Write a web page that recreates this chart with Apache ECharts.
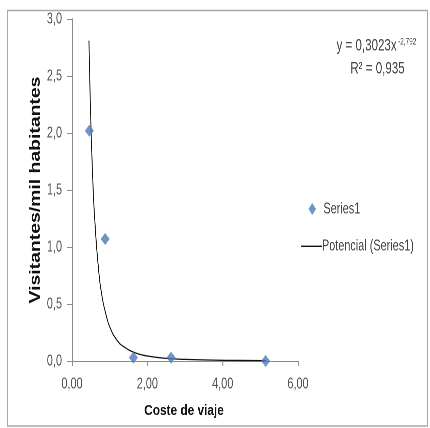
<!DOCTYPE html>
<html><head><meta charset="utf-8">
<script src="https://cdn.jsdelivr.net/npm/echarts@6/dist/echarts.min.js"></script>
<style>
html,body{margin:0;padding:0;background:#fff;overflow:hidden;width:430px;height:428px}
#c{width:632px;height:428px;transform:scaleX(0.68038);transform-origin:0 0}
</style>
</head><body><div id="c"></div>
<script>
// Observed data (Coste de viaje, Visitantes/mil habitantes)
const costeViaje = [0.46, 0.88, 1.63, 2.63, 5.14];
const visitantes = [2.02, 1.07, 0.03, 0.03, 0.00];
// Power trend line points
const trendX = [0.45, 0.50, 0.55, 0.60, 0.70, 0.80, 0.90, 1.00, 1.20, 1.40, 1.70, 2.00, 2.50, 3.00, 4.00, 5.14];
const trendY = [2.81, 2.09, 1.60, 1.26, 0.82, 0.56, 0.41, 0.30, 0.18, 0.12, 0.069, 0.044, 0.023, 0.014, 0.006, 0.003];
const xTicks = [0, 2, 4, 6];
const yTicks = [0, 0.5, 1, 1.5, 2, 2.5, 3];
const xTitle = 'Coste de viaje';
const yTitle = 'Visitantes/mil habitantes';
const equationText = 'y = 0,3023x';
const exponentText = '-2,792';
const r2Text = 'R² = 0,935';
const seriesName = 'Series1';
const trendName = 'Potencial (Series1)';

// the page is drawn 1.47x wide and squeezed back to 430px (narrow Excel-like text)
const K = 632 / 430;
const X = v => v * K;
const sans = '"Liberation Sans", Arial, sans-serif';
const blue = '#4a7bb7';

const chart = echarts.init(document.getElementById('c'), null, {devicePixelRatio: 2});
chart.setOption({
  backgroundColor: '#fff',
  animation: false,
  grid: {left: X(72), right: 632 - X(298), top: 19, bottom: 67},
  xAxis: {
    type: 'value', min: 0, max: 6, interval: 2,
    axisLine: {onZero: false, lineStyle: {color: '#8c8c8c', width: 1}},
    axisTick: {show: true, length: 5, lineStyle: {color: '#8c8c8c', width: 1.4}},
    axisLabel: {fontFamily: sans, fontSize: 16, color: '#555', margin: 15,
      formatter: v => v.toFixed(2).replace('.', ',')},
    splitLine: {show: false}
  },
  yAxis: {
    type: 'value', min: 0, max: 3, interval: 0.5,
    axisLine: {show: true, lineStyle: {color: '#8c8c8c', width: 1.4}},
    axisTick: {show: true, length: X(5), lineStyle: {color: '#8c8c8c', width: 1}},
    axisLabel: {fontFamily: sans, fontSize: 16, color: '#555', margin: X(10),
      padding: [7, 0, 0, 0], formatter: v => v.toFixed(1).replace('.', ',')},
    splitLine: {show: false}
  },
  legend: [
    {
      left: X(308.5), top: 201, padding: 0, itemWidth: X(7.5), itemHeight: 12,
      textStyle: {fontFamily: sans, fontSize: 16, color: '#444', padding: [0, 0, 0, X(4)]},
      data: [{name: seriesName, icon: 'diamond', itemStyle: {color: blue}}]
    },
    {
      left: X(301), top: 238.3, padding: 0, itemWidth: X(21), itemHeight: 1.4,
      textStyle: {fontFamily: sans, fontSize: 16, color: '#444', padding: [0, 0, 0, -X(3.5)]},
      data: [{name: trendName, icon: 'rect', itemStyle: {color: '#111'}}]
    }
  ],
  graphic: [
    {type: 'rect', silent: true, z: -1, shape: {x: X(7.5), y: 10.5, width: X(420), height: 415.5},
      style: {fill: 'none', stroke: '#a8a8a8', lineWidth: 1.4}},
    {type: 'text', x: X(336.5), y: 46, style: {text: equationText, fontFamily: sans, fontSize: 17, fill: '#444', verticalAlign: 'middle'}},
    {type: 'text', x: X(398), y: 42, style: {text: exponentText, fontFamily: sans, fontSize: 9.5, fill: '#444', verticalAlign: 'middle'}},
    {type: 'text', x: X(377.5), y: 69, style: {text: r2Text, fontFamily: sans, fontSize: 17, fill: '#444', align: 'center', verticalAlign: 'middle'}},
    {type: 'text', x: X(184), y: 411, scaleX: 1.2, style: {text: xTitle, fontFamily: sans, fontWeight: 'bold', fontSize: 14.5, fill: '#111', align: 'center', verticalAlign: 'middle'}},
    {type: 'text', x: X(35.5), y: 190, rotation: Math.PI / 2, scaleX: 1.14, scaleY: 1.3,
      style: {text: yTitle, fontFamily: sans, fontWeight: 'bold', fontSize: 17, fill: '#111', align: 'center', verticalAlign: 'middle'}}
  ],
  series: [
    {
      name: trendName, type: 'line', smooth: true, showSymbol: false,
      data: trendX.map((x, i) => [x, trendY[i]]),
      lineStyle: {color: '#111', width: 1.3}, z: 2
    },
    {
      name: seriesName, type: 'scatter', symbol: 'diamond', symbolSize: [X(9), 12],
      data: costeViaje.map((x, i) => [x, visitantes[i]]),
      itemStyle: {color: blue}, z: 3
    }
  ]
});
</script></body></html>
